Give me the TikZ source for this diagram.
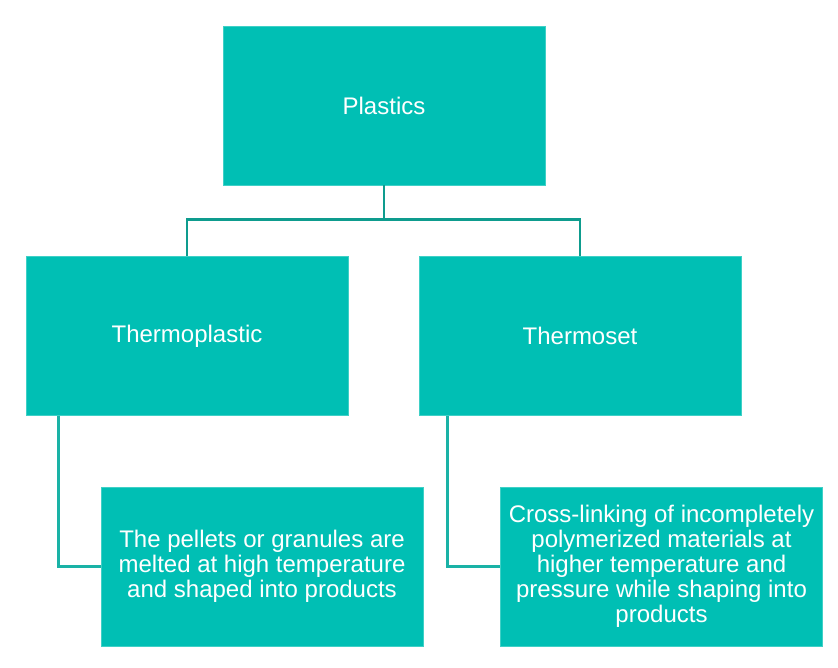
\documentclass[tikz,border=0pt]{standalone}
\usepackage{fontspec}
\setmainfont{Liberation Sans}
\definecolor{boxteal}{HTML}{00BFB4}
\definecolor{edgeteal}{HTML}{3FD0C6}
\definecolor{darkline}{HTML}{0E9C8E}
\definecolor{lightline}{HTML}{1AB2A6}
\tikzset{
  card/.style={rectangle, fill=boxteal, draw=edgeteal, line width=0.4pt,
    minimum width=241.5pt, minimum height=119.25pt, inner sep=0pt,
    text=white, align=center, font=\fontsize{18}{18.75}\selectfont},
  topline/.style={draw=darkline, line width=2.2pt},
  sideline/.style={draw=lightline, line width=2.2pt}
}

\begin{document}
\begin{tikzpicture}[x=0.75pt,y=-0.75pt]
  \useasboundingbox (0,0) rectangle (838,667);
  %% the three upper boxes
  \node[card] (plastics) at (384,105.5) {Plastics};
  \node[card] (thermoplastic) at (187,336) {Thermoplastic};
  \node[card] (thermoset) at (580,336) {Thermoset};
  %% the two description boxes
  \node[card] (pellets) at (262,566.5) {The pellets or granules are\\melted at high temperature\\and shaped into products};
  \node[card] (crosslink) at (661.5,566.5) {Cross-linking of incompletely\\polymerized materials at\\higher temperature and\\pressure while shaping into\\products};

  \draw[topline] (plastics.south) -- ++(0,34) coordinate (fork); %split to both kinds
  \foreach \kind in {thermoplastic,thermoset} {
    \draw[topline] (fork) -| (\kind.north);
  }
  \draw[sideline] ([xshift=24.75pt]thermoplastic.south west) |- (pellets.west);
  \draw[sideline] ([xshift=21.75pt]thermoset.south west) |- (crosslink.west);
\end{tikzpicture}
\end{document}
